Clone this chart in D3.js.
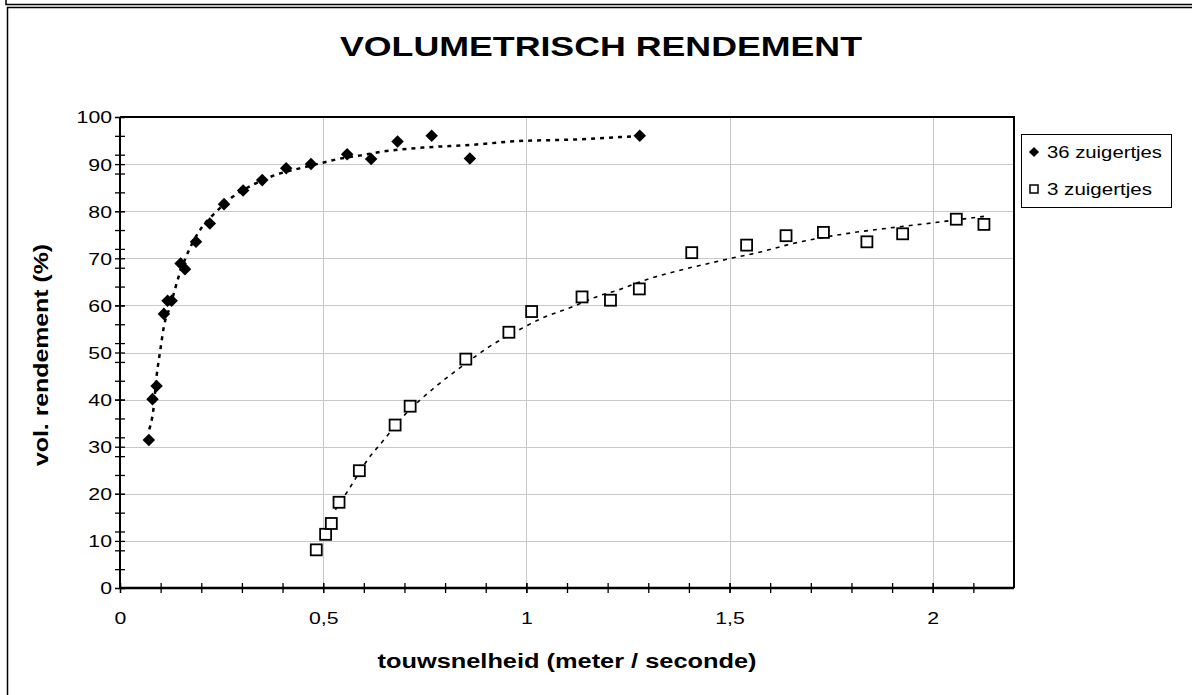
<!DOCTYPE html>
<html>
<head>
<meta charset="utf-8">
<script src="https://cdn.jsdelivr.net/npm/d3@7"></script>
<style>
  body { margin: 0; background: #fff; }
  text { font-family: Arial, "Liberation Sans", sans-serif; fill: #000; }
</style>
</head>
<body>
<div id="chart"></div>
<script>
// data
var x36 = [0.071, 0.080, 0.090, 0.108, 0.117, 0.127, 0.149, 0.160, 0.187, 0.221, 0.256,
           0.303, 0.350, 0.409, 0.470, 0.559, 0.618, 0.683, 0.767, 0.861, 1.279];
var y36 = [31.4, 40.1, 42.9, 58.2, 61.0, 61.0, 68.9, 67.7, 73.5, 77.4, 81.5,
           84.4, 86.6, 89.1, 90.0, 92.1, 91.1, 94.8, 96.0, 91.2, 96.0];

var x3 = [0.483, 0.506, 0.520, 0.539, 0.589, 0.677, 0.714, 0.851, 0.957, 1.013, 1.137,
          1.207, 1.278, 1.407, 1.542, 1.639, 1.731, 1.838, 1.926, 2.058, 2.126];
var y3 = [8.1, 11.4, 13.7, 18.2, 24.9, 34.6, 38.6, 48.6, 54.3, 58.7, 61.8,
          61.1, 63.5, 71.2, 72.8, 74.8, 75.5, 73.5, 75.2, 78.3, 77.2];

// trendlines as they appear in the picture
var trend36X = [0.072, 0.082, 0.090, 0.100, 0.108, 0.123, 0.147, 0.168, 0.200, 0.237, 0.278, 0.327,
                0.376, 0.442, 0.499, 0.532, 0.589, 0.650, 0.745, 0.867, 0.982, 1.113, 1.279];
var trend36Y = [33.7, 37.8, 44.9, 51.0, 55.5, 59.7, 66.8, 71.4, 76.4, 79.9, 83.1, 85.6,
                87.5, 89.1, 90.3, 91.0, 91.8, 92.7, 93.5, 94.1, 94.9, 95.2, 96.0];
var trend3X = [0.530, 0.565, 0.609, 0.646, 0.700, 0.769, 0.850, 0.908, 0.982, 1.039, 1.113, 1.178,
               1.227, 1.293, 1.375, 1.448, 1.509, 1.579, 1.640, 1.792, 1.890, 1.988, 2.126];
var trend3Y = [16.6, 21.2, 27.2, 31.1, 36.7, 42.2, 47.6, 51.2, 54.8, 57.3, 59.7, 62.0,
               63.3, 65.4, 67.4, 68.9, 70.1, 71.4, 72.8, 75.3, 76.4, 77.4, 78.9];

var xMajor = [0, 0.5, 1, 1.5, 2];
var xLabels = ["0", "0,5", "1", "1,5", "2"];
var yMajor = [0, 10, 20, 30, 40, 50, 60, 70, 80, 90, 100];
var seriesNames = ["36 zuigertjes", "3 zuigertjes"];

var W = 1192, H = 695;
var plot = {left: 120, top: 117, right: 1014, bottom: 588};

var svg = d3.select("#chart").append("svg")
    .attr("width", W)
    .attr("height", H);

svg.append("rect").attr("width", W).attr("height", H).attr("fill", "#fff");

// frame lines
svg.append("path")
    .attr("d", "M6,0V4.5H" + W)
    .attr("fill", "none").attr("stroke", "#000").attr("stroke-width", 1.5);
svg.append("rect")
    .attr("x", 7.5).attr("y", 7.5)
    .attr("width", W + 20).attr("height", H + 20)
    .attr("fill", "none").attr("stroke", "#000").attr("stroke-width", 1.5);

var x = d3.scaleLinear().domain([0, 2.2]).range([plot.left, plot.right]);
var y = d3.scaleLinear().domain([0, 100]).range([plot.bottom, plot.top]);

// gridlines
svg.append("g").selectAll("line")
    .data(yMajor.filter(function(d) { return d > 0 && d < 100; }))
    .enter().append("line")
    .attr("x1", plot.left).attr("x2", plot.right)
    .attr("y1", function(d) { return Math.round(y(d)) + 0.5; })
    .attr("y2", function(d) { return Math.round(y(d)) + 0.5; })
    .attr("stroke", "#c8c8c8").attr("stroke-width", 1);
svg.append("g").selectAll("line")
    .data(xMajor.filter(function(d) { return d > 0; }))
    .enter().append("line")
    .attr("y1", plot.top).attr("y2", plot.bottom)
    .attr("x1", function(d) { return Math.round(x(d)) + 0.5; })
    .attr("x2", function(d) { return Math.round(x(d)) + 0.5; })
    .attr("stroke", "#c8c8c8").attr("stroke-width", 1);

// plot border (top / right)
svg.append("path")
    .attr("d", "M" + plot.left + "," + plot.top + "H" + plot.right + "V" + plot.bottom)
    .attr("fill", "none").attr("stroke", "#000").attr("stroke-width", 2);

// y axis
var yAxis = svg.append("g")
    .attr("transform", "translate(" + plot.left + ",0)")
    .call(d3.axisLeft(y).tickValues(yMajor).tickSize(5).tickPadding(8).tickFormat(d3.format("d")));
var yMinor = svg.append("g")
    .attr("transform", "translate(" + plot.left + ",0)")
    .call(d3.axisLeft(y).tickValues(d3.range(0, 101, 4)).tickSize(4).tickFormat(""));
[yAxis, yMinor].forEach(function(g) {
  g.select(".domain").remove();
  g.selectAll(".tick line").attr("x2", -5).attr("x1", 5).attr("stroke", "#000").attr("stroke-width", 1.3);
});
yAxis.selectAll("text")
    .attr("x", -8)
    .style("font-size", "17px")
    .attr("transform", "translate(-8,0) scale(1.25,1) translate(8,0)")
    .attr("dy", "0.35em");

// x axis
var xAxis = svg.append("g")
    .attr("transform", "translate(0," + plot.bottom + ")")
    .call(d3.axisBottom(x).tickValues(xMajor).tickSize(5)
      .tickFormat(function(d, i) { return xLabels[i]; }));
var xMinor = svg.append("g")
    .attr("transform", "translate(0," + plot.bottom + ")")
    .call(d3.axisBottom(x).tickValues(d3.range(0, 22).map(function(i) { return i / 10; })).tickFormat(""));
[xAxis, xMinor].forEach(function(g) {
  g.select(".domain").remove();
  g.selectAll(".tick line").attr("y1", -5).attr("y2", 5).attr("stroke", "#000").attr("stroke-width", 1.3);
});
xAxis.selectAll("text")
    .attr("y", 36)
    .attr("dy", "0")
    .style("font-size", "17px")
    .attr("transform", "scale(1.25,1)");

// axis lines
svg.append("line")
    .attr("x1", plot.left).attr("x2", plot.left)
    .attr("y1", plot.top).attr("y2", plot.bottom)
    .attr("stroke", "#000").attr("stroke-width", 2);
svg.append("line")
    .attr("x1", plot.left).attr("x2", plot.right)
    .attr("y1", plot.bottom).attr("y2", plot.bottom)
    .attr("stroke", "#000").attr("stroke-width", 2.5);

// trendlines
var trendLine = d3.line()
    .x(function(d) { return x(d[0]); })
    .y(function(d) { return y(d[1]); })
    .curve(d3.curveMonotoneX);

svg.append("path")
    .datum(d3.zip(trend36X, trend36Y))
    .attr("d", trendLine)
    .attr("fill", "none").attr("stroke", "#000")
    .attr("stroke-width", 2.5).attr("stroke-dasharray", "4,5");
svg.append("path")
    .datum(d3.zip(trend3X, trend3Y))
    .attr("d", trendLine)
    .attr("fill", "none").attr("stroke", "#000")
    .attr("stroke-width", 1.6).attr("stroke-dasharray", "4,5");

// markers
var diamond = d3.symbol().type(d3.symbolDiamond2).size(100);

svg.append("g").selectAll("path")
    .data(d3.zip(x36, y36))
    .enter().append("path")
    .attr("d", diamond)
    .attr("transform", function(d) { return "translate(" + x(d[0]) + "," + y(d[1]) + ")"; })
    .attr("fill", "#000");

svg.append("g").selectAll("rect")
    .data(d3.zip(x3, y3))
    .enter().append("rect")
    .attr("x", function(d) { return x(d[0]) - 5.5; })
    .attr("y", function(d) { return y(d[1]) - 5.5; })
    .attr("width", 11).attr("height", 11)
    .attr("fill", "#fff").attr("stroke", "#000").attr("stroke-width", 1.8);

// title and axis titles
svg.append("text")
    .attr("x", 601).attr("y", 56)
    .attr("text-anchor", "middle")
    .style("font-size", "28px").style("font-weight", "bold")
    .attr("textLength", 522).attr("lengthAdjust", "spacingAndGlyphs")
    .text("VOLUMETRISCH RENDEMENT");

svg.append("text")
    .attr("x", 567).attr("y", 668)
    .attr("text-anchor", "middle")
    .style("font-size", "20px").style("font-weight", "bold")
    .attr("textLength", 379).attr("lengthAdjust", "spacingAndGlyphs")
    .text("touwsnelheid (meter / seconde)");

svg.append("text")
    .attr("transform", "translate(48,355) rotate(-90)")
    .attr("text-anchor", "middle")
    .style("font-size", "20px").style("font-weight", "bold")
    .attr("textLength", 222).attr("lengthAdjust", "spacingAndGlyphs")
    .text("vol. rendement (%)");

// legend
var legend = svg.append("g");
legend.append("rect")
    .attr("x", 1021.5).attr("y", 134.5)
    .attr("width", 150).attr("height", 73)
    .attr("fill", "#fff").attr("stroke", "#000").attr("stroke-width", 1);

var legendItems = legend.selectAll(".legend")
    .data(seriesNames)
    .enter().append("g")
    .attr("class", "legend")
    .attr("transform", function(d, i) { return "translate(0," + (152 + i * 37) + ")"; });

legendItems.filter(function(d, i) { return i === 0; })
    .append("path")
    .attr("d", d3.symbol().type(d3.symbolDiamond2).size(65))
    .attr("transform", "translate(1034,0)")
    .attr("fill", "#000");
legendItems.filter(function(d, i) { return i === 1; })
    .append("rect")
    .attr("x", 1030).attr("y", -4)
    .attr("width", 8).attr("height", 8)
    .attr("fill", "#fff").attr("stroke", "#000").attr("stroke-width", 1.5);

legendItems.append("text")
    .attr("x", 1047).attr("y", 0)
    .attr("dy", "0.35em")
    .style("font-size", "17px")
    .attr("textLength", function(d, i) { return i === 0 ? 115 : 105; })
    .attr("lengthAdjust", "spacingAndGlyphs")
    .text(function(d) { return d; });
</script>
</body>
</html>
